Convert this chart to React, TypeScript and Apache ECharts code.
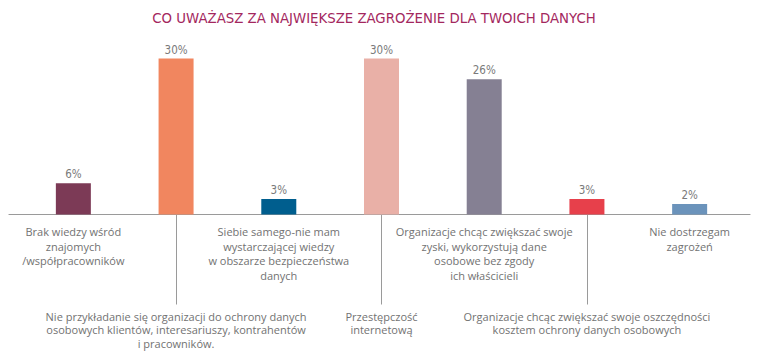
import React, { useEffect, useRef } from "react";
import * as echarts from "echarts";

const title = "CO UWAŻASZ ZA NAJWIĘKSZE ZAGROŻENIE DLA TWOICH DANYCH";

const categories = [
  "Brak wiedzy wśród\nznajomych\n/współpracowników",
  "Nie przykładanie się organizacji do ochrony danych\nosobowych klientów, interesariuszy, kontrahentów\ni pracowników.",
  "Siebie samego-nie mam\nwystarczającej wiedzy\nw obszarze bezpieczeństwa\ndanych",
  "Przestępczość\ninternetową",
  "Organizacje chcąc zwiększać swoje\nzyski, wykorzystują dane\nosobowe bez zgody\nich właścicieli",
  "Organizacje chcąc zwiększać swoje oszczędności\nkosztem ochrony danych osobowych",
  "Nie dostrzegam\nzagrożeń",
];

const values = [6, 30, 3, 30, 26, 3, 2];

const barColors = ["#7c3a56", "#f1865f", "#005e8e", "#e9b0a7", "#858093", "#e7404b", "#6b93bb"];

export default function App() {
  const ref = useRef<HTMLDivElement>(null);
  useEffect(() => {
    if (!ref.current) return;
    const chart = echarts.init(ref.current, null, { renderer: "svg" });
    const labelFont = "'Open Sans', 'Noto Sans', sans-serif";
    chart.setOption({
      animation: false,
      backgroundColor: "#ffffff",
      title: {
        text: title,
        left: 369,
        textAlign: "center",
        top: 5,
        textStyle: {
          fontFamily: "'Liberation Sans Narrow', 'DejaVu Sans Condensed', sans-serif",
          fontSize: 14.8,
          fontWeight: "normal",
          color: "#a3275e",
        },
      },
      grid: [
        { left: 22, width: 719, top: 58.5, height: 156 },
        { left: 9, width: 741, top: 58.5, height: 156 },
      ],
      xAxis: [
        {
          type: "category",
          gridIndex: 0,
          data: categories,
          axisLine: { show: false },
          axisTick: {
            show: true,
            alignWithLabel: true,
            interval: (i: number) => i % 2 === 1,
            length: 90,
            lineStyle: { color: "#9a9a9a", width: 1 },
          },
          axisLabel: {
            interval: 0,
            margin: 10,
            formatter: (v: string, i: number) => (i % 2 === 0 ? v : ""),
            color: "#727272",
            fontFamily: labelFont,
            fontSize: 11,
            lineHeight: 14.5,
            align: "center",
          },
        },
        {
          type: "category",
          gridIndex: 0,
          position: "bottom",
          data: categories,
          axisLine: { show: false },
          axisTick: { show: false },
          axisLabel: {
            interval: 0,
            margin: 95,
            formatter: (v: string, i: number) => (i % 2 === 1 ? v : ""),
            color: "#727272",
            fontFamily: labelFont,
            fontSize: 11,
            lineHeight: 13.5,
            align: "center",
          },
        },
        {
          type: "value",
          gridIndex: 1,
          min: 0,
          max: 1,
          axisLine: { show: true, lineStyle: { color: "#9a9a9a", width: 1.2 } },
          axisTick: { show: false },
          axisLabel: { show: false },
          splitLine: { show: false },
        },
      ],
      yAxis: [
        { type: "value", gridIndex: 0, min: 0, max: 30, show: false, splitLine: { show: false } },
        { type: "value", gridIndex: 1, min: 0, max: 1, show: false, splitLine: { show: false } },
      ],
      series: [
        {
          type: "bar",
          xAxisIndex: 0,
          yAxisIndex: 0,
          data: values.map((v, i) => ({ value: v, itemStyle: { color: barColors[i] } })),
          barWidth: 35,
          label: {
            show: true,
            position: "top",
            distance: 3,
            formatter: (p: any) => `${p.value}%`,
            color: "#7a7a7a",
            fontFamily: "'Liberation Sans Narrow', 'DejaVu Sans Condensed', sans-serif",
            fontSize: 11.5,
          },
        },
      ],
    });
    return () => chart.dispose();
  }, []);
  return (
    <div
      ref={ref}
      style={{ position: "absolute", left: 0, top: 0, width: 757, height: 352 }}
    />
  );
}
